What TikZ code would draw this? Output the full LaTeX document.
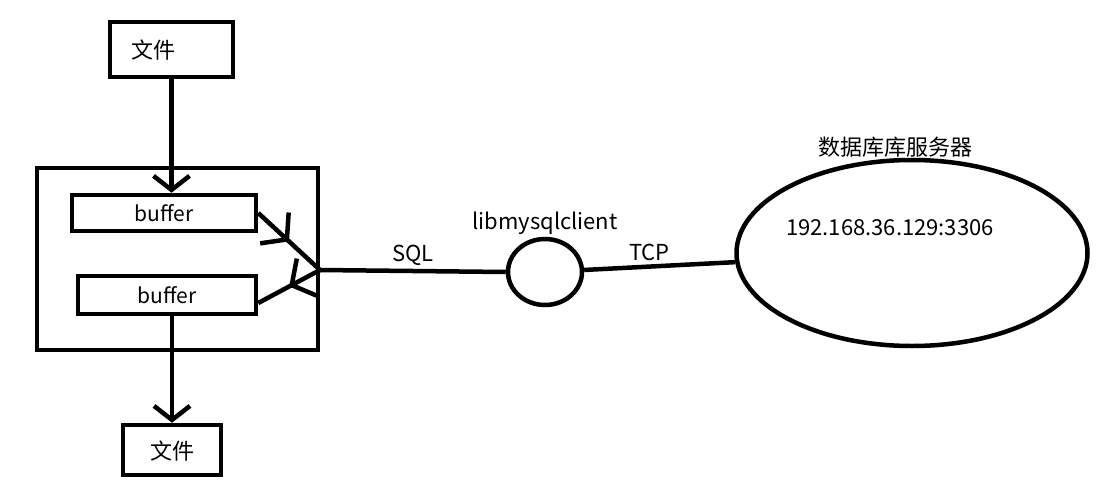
\documentclass[tikz,border=0pt]{standalone}
\usepackage{fontspec}
\usepackage{tikz}
\usetikzlibrary{
	positioning,
	arrows.meta,
	shapes.geometric,
	decorations.markings
}
\newfontfamily\cjk{Noto Sans CJK SC}
\tikzset{
	boxnode/.style={
		draw=black,
		line width=4.5pt,
		shape=rectangle,
		font=\cjk\fontsize{22}{26}\selectfont
	},
	filebox/.style={
		boxnode,
		minimum height=55pt
	},
	bufbox/.style={
		boxnode,
		minimum width=184pt,
		minimum height=36pt,
		font=\cjk\fontsize{21}{25}\selectfont
	},
	roundnode/.style={
		draw=black,
		line width=4.5pt,
		ellipse
	},
	labelnode/.style={
		font=\cjk\fontsize{22}{26}\selectfont
	},
	wire/.style={
		draw=black,
		line width=4.5pt
	},
	arrow/.style={
		wire,
		-{Straight Barb[length=14pt,width=36pt]}
	},
	midarrow/.style={
		wire,
		postaction={decorate},
		decoration={markings,
			mark=at position 0.5 with {\arrow{Straight Barb[length=17pt,width=42pt]}}}
	}
}

\begin{document}
\begin{tikzpicture}[x=1pt,y=-1pt]
	\useasboundingbox (0,0) rectangle (1108,495);
	
	% Nodes
	% Left side: files and host
	\node[filebox, minimum width=123pt, text width=80pt, align=left, inner xsep=21.5pt, text depth=-4pt] (file_in) at (171.5,49.5) {文件};
	\node[boxnode, minimum width=281pt, minimum height=182pt] (host) at (177.5,259) {};
	\node[bufbox] (buf_in) at (164,213) {buffer};
	\node[bufbox, minimum width=178pt, minimum height=38pt] (buf_out) at (167,295) {buffer};
	\node[filebox, minimum width=98pt, minimum height=50pt, text depth=-4pt] (file_out) at (172,450) {文件};
	\coordinate (junction) at (320,270);
	
	% Middle: client library
	\node[roundnode, minimum width=74pt, minimum height=66pt] (client) at (545,272) {};
	\node[labelnode, above=-1pt of client] {libmysqlclient};
	
	% Right side: server
	\node[roundnode, minimum width=351pt, minimum height=186pt] (server) at (912,253) {};
	\node[labelnode, above=-3pt of server, xshift=-17pt] (server_name) {数据库库服务器};
	\node[labelnode] (server_addr) at (890,228) {192.168.36.129:3306};
	
	% Arrows
	% file to buffer
	\draw[arrow] (file_in.south) -- (file_in.south |- buf_in.north);
	
	% buffers to connection
	\draw[midarrow] (buf_in.east) -- (junction);
	\draw[midarrow] (junction) -- ([yshift=-8pt]buf_out.east);
	
	% buffer to file
	\draw[arrow] (buf_out.south -| file_out.north) -- (file_out.north);
	
	% connection to server
	\draw[wire] (junction) -- (client.west)
	node[midway, above, labelnode] {SQL};
	\draw[wire] (client) -- (server)
	node[midway, above, labelnode, xshift=-10pt] {TCP};
	
\end{tikzpicture}
\end{document}
